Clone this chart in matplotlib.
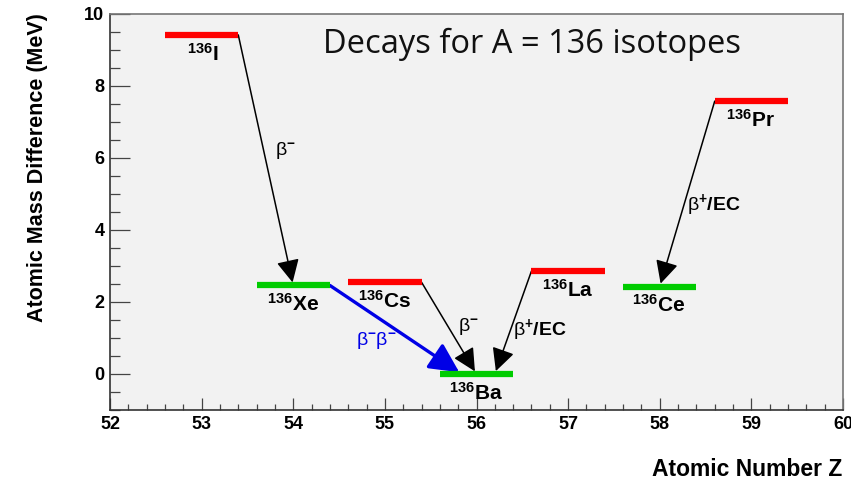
import matplotlib
matplotlib.use("Agg")
import matplotlib.pyplot as plt
from matplotlib.ticker import MultipleLocator

plt.rcParams["font.family"] = "Liberation Sans"
plt.rcParams["mathtext.fontset"] = "custom"
plt.rcParams["mathtext.rm"] = "Liberation Sans:bold"
plt.rcParams["mathtext.it"] = "Liberation Sans:bold"
plt.rcParams["mathtext.bf"] = "Liberation Sans:bold"

# A = 136 isobars: element, atomic number, mass excess relative to 136Ba (MeV)
elements = ["I", "Xe", "Cs", "Ba", "La", "Ce", "Pr"]
z_values = [53, 54, 55, 56, 57, 58, 59]
mass_diff = [9.42, 2.46, 2.55, 0.0, 2.86, 2.43, 7.58]
is_stable = [False, True, False, True, False, True, False]

# decays: parent, daughter, label
decay_from = ["I", "Xe", "Cs", "La", "Pr"]
decay_to = ["Xe", "Ba", "Ba", "Ba", "Ce"]
decay_labels = ["β$^{-}$", "β$^{-}$β$^{-}$", "β$^{-}$", "β$^{+}/\\mathrm{EC}$", "β$^{+}/\\mathrm{EC}$"]

# layout for the arrows / labels
half_width = 0.4
start_side = [1, 1, 1, -1, -1]          # leave from right or left end of parent bar
end_shift = [0.0, -0.16, 0.0, 0.2, 0.0]  # where the arrow lands on daughter bar
label_pos = [(53.80, 6.22), (54.69, 0.92), (55.80, 1.33), (56.40, 1.22), (58.30, 4.69)]
name_shift = [-0.16, -0.29, -0.29, -0.30, -0.29, -0.30, -0.28]

fig = plt.figure(figsize=(8.51, 4.82), dpi=100)
ax = fig.add_axes([110 / 851, 72 / 482, 733 / 851, 396 / 482])
ax.set_facecolor("#f2f2f2")
ax.set_xlim(52, 60)
ax.set_ylim(-1, 10)

# energy levels
colors = ["#00cc00" if s else "#ff0000" for s in is_stable]
for z, e, c in zip(z_values, mass_diff, colors):
    ax.plot([z - half_width, z + half_width], [e, e], color=c, lw=4.5,
            solid_capstyle="butt", zorder=3)

for name, z, e, dx in zip(elements, z_values, mass_diff, name_shift):
    ax.annotate("$^{136}$" + name, (z + dx, e), xytext=(0, -5.5),
                textcoords="offset points", ha="left", va="top",
                fontsize=15, fontweight="bold", color="black", zorder=4)

# decay arrows
pos = {name: (z, e) for name, z, e in zip(elements, z_values, mass_diff)}
for i, (src, dst) in enumerate(zip(decay_from, decay_to)):
    z0, e0 = pos[src]
    z1, e1 = pos[dst]
    double_beta = src == "Xe"
    if double_beta:
        style = "-|>,head_length=0.9,head_width=0.45"
        col, lw = "#0000e6", 2.4
    else:
        style = "-|>,head_length=0.7,head_width=0.35"
        col, lw = "black", 1.1
    ax.annotate("", xy=(z1 + end_shift[i], e1), xytext=(z0 + start_side[i] * half_width, e0),
                arrowprops=dict(arrowstyle=style, color=col, lw=lw,
                                shrinkA=0, shrinkB=2.2, mutation_scale=20),
                zorder=2)
    lx, ly = label_pos[i]
    ax.text(lx, ly, decay_labels[i], ha="left", va="center", fontsize=14,
            color=col, zorder=4)

ax.text(0.576, 0.9015, "Decays for A = 136 isotopes", transform=ax.transAxes,
        ha="center", va="baseline", fontsize=23.5, family="Open Sans", color="#111111")

# axes styling
ax.xaxis.set_major_locator(MultipleLocator(1))
ax.xaxis.set_minor_locator(MultipleLocator(0.2))
ax.yaxis.set_major_locator(MultipleLocator(2))
ax.yaxis.set_minor_locator(MultipleLocator(0.5))
ax.tick_params(axis="x", which="major", direction="in", length=8.6, width=0.9,
               color="#444444", pad=4, labelsize=13)
ax.tick_params(axis="x", which="minor", direction="in", length=4.3, width=0.9, color="#444444")
ax.tick_params(axis="y", which="major", direction="in", length=14.4, width=0.9,
               color="#444444", pad=4, labelsize=13)
ax.tick_params(axis="y", which="minor", direction="in", length=7.2, width=0.9, color="#444444")
for lab in ax.get_xticklabels() + ax.get_yticklabels():
    lab.set_fontweight("bold")

for side in ["left", "bottom"]:
    ax.spines[side].set_color("#333333")
    ax.spines[side].set_linewidth(1.2)
for side in ["top", "right"]:
    ax.spines[side].set_color("#777777")
    ax.spines[side].set_linewidth(1.2)

fig.text(38 / 851, 1 - 13 / 482, "Atomic Mass Difference (MeV)", rotation=90,
         ha="center", va="top", fontsize=15.5, fontweight="bold")
fig.text(842 / 851, 1 - 470 / 482, "Atomic Number Z", ha="right", va="center",
         fontsize=16.5, fontweight="bold")

fig.savefig("out.png", dpi=100, facecolor="white")
